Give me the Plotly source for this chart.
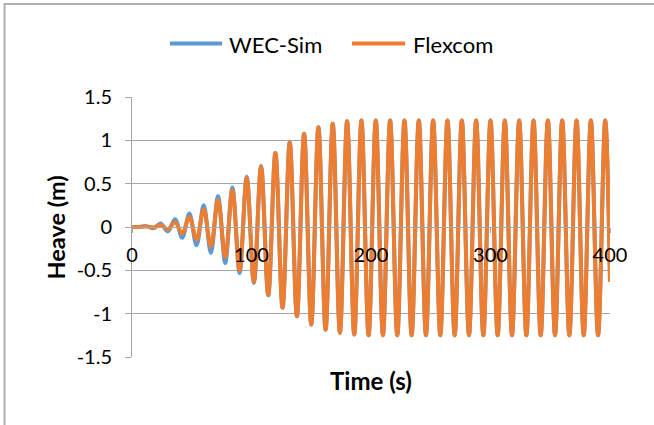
import plotly.graph_objects as go

# ---- data (extrema: peaks/troughs every half period) ----
time_s = [0, 6, 12, 18, 24, 30, 36, 42, 48, 54, 60, 66, 72, 78, 84, 90, 96, 102,
          108, 114, 120, 126, 132, 138, 144, 150, 156, 162, 168, 174, 180, 186,
          192, 198, 204, 210, 216, 222, 228, 234, 240, 246, 252, 258, 264, 270,
          276, 282, 288, 294, 300, 306, 312, 318, 324, 330, 336, 342, 348, 354,
          360, 366, 372, 378, 384, 390, 396, 400]

flexcom = [0.0, 0.0, 0.005, -0.005, 0.02, -0.025, 0.055, -0.075, 0.115, -0.145,
           0.205, -0.225, 0.315, -0.345, 0.425, -0.50, 0.565, -0.635, 0.70, -0.785,
           0.855, -0.93, 0.975, -1.03, 1.075, -1.125, 1.15, -1.185, 1.19, -1.22,
           1.22, -1.24, 1.23, -1.25, 1.23, -1.25, 1.23, -1.25, 1.23, -1.25,
           1.23, -1.25, 1.23, -1.25, 1.23, -1.25, 1.23, -1.25, 1.23, -1.25,
           1.23, -1.25, 1.23, -1.25, 1.23, -1.25, 1.23, -1.25, 1.23, -1.25,
           1.23, -1.25, 1.23, -1.25, 1.23, -1.25, 1.23, -0.63]

wec_sim = [0.0, 0.0, 0.01, -0.015, 0.04, -0.05, 0.09, -0.125, 0.155, -0.21,
           0.25, -0.30, 0.355, -0.415, 0.455, -0.53, 0.58, -0.645, 0.705, -0.79,
           0.855, -0.93, 0.975, -1.03, 1.075, -1.125, 1.15, -1.185, 1.19, -1.22,
           1.22, -1.24, 1.23, -1.25, 1.23, -1.25, 1.23, -1.25, 1.23, -1.25,
           1.23, -1.25, 1.23, -1.25, 1.23, -1.25, 1.23, -1.25, 1.23, -1.25,
           1.23, -1.25, 1.23, -1.25, 1.23, -1.25, 1.23, -1.25, 1.23, -1.25,
           1.23, -1.25, 1.23, -1.25, 1.23, -1.25, 1.23, -0.63]

x_tickvals = [0, 100, 200, 300, 400]
x_ticktext = ["0", "100", "200", "300", "400"]
y_tickvals = [-1.5, -1, -0.5, 0, 0.5, 1, 1.5]
y_ticktext = ["-1.5", "-1", "-0.5", "0", "0.5", "1", "1.5"]

series_names = ["WEC-Sim", "Flexcom"]
series_colors = ["#5B9BD5", "#ED7D31"]

# ---- layout geometry (pixels) ----
W, H = 654, 425
L, R, T, B = 132, 44, 97, 68
PW, PH = W - L - R, H - T - B


def px(x):
    return (x - L) / PW


def py(y):
    return (H - B - y) / PH


FONT = "Lato"
GRID = "#A6A6A6"

fig = go.Figure()
for name, ys, col in zip(series_names, [wec_sim, flexcom], series_colors):
    fig.add_trace(go.Scatter(
        x=time_s, y=ys, mode="lines", name=name,
        line=dict(color=col, width=4, shape="spline", smoothing=1.0),
        showlegend=False, hoverinfo="skip"))

fig.update_layout(
    width=W, height=H,
    margin=dict(l=L, r=R, t=T, b=B, pad=0),
    paper_bgcolor="white", plot_bgcolor="white",
    font=dict(family=FONT, color="#000000", size=20),
    xaxis=dict(range=[0, 400], tickvals=x_tickvals, ticktext=x_ticktext,
               anchor="free", position=0.5, showline=True, linecolor=GRID,
               linewidth=1, ticks="outside", ticklen=5, tickcolor=GRID,
               showgrid=False, zeroline=False, tickfont=dict(size=20),
               ticklabelstandoff=5),
    yaxis=dict(range=[-1.5, 1.5], tickvals=y_tickvals, ticktext=y_ticktext,
               showline=True, linecolor=GRID, linewidth=1, ticks="outside",
               ticklen=6, tickcolor=GRID, showgrid=True, gridcolor=GRID,
               gridwidth=1, zeroline=False, tickfont=dict(size=20),
               ticklabelstandoff=9),
)

# titles
fig.add_annotation(text="<b>Time (s)</b>", x=px(370.5), y=py(380), xref="paper",
                   yref="paper", showarrow=False, font=dict(size=24),
                   xanchor="center", yanchor="middle")
fig.add_annotation(text="<b>Heave (m)</b>", x=px(55), y=py(227.5), xref="paper",
                   yref="paper", showarrow=False, font=dict(size=23.5),
                   textangle=-90, xanchor="center", yanchor="middle")

# legend (custom, top centre)
leg = [(170, 222, 227), (352, 405, 411)]
for (x0, x1, xt), name, col in zip(leg, series_names, series_colors):
    fig.add_shape(type="line", xref="paper", yref="paper",
                  x0=px(x0), x1=px(x1), y0=py(43.5), y1=py(43.5),
                  line=dict(color=col, width=4))
    fig.add_annotation(text=name, x=px(xt), y=py(44), xref="paper", yref="paper",
                       showarrow=False, font=dict(size=22), xanchor="left",
                       yanchor="middle")

# chart border
fig.add_shape(type="rect", xref="paper", yref="paper",
              x0=px(4.5), y0=py(4), x1=px(720), y1=py(500),
              line=dict(color="#AFAFAF", width=2), layer="below")

fig.write_html("out.html",
               config={"displayModeBar": False},
               post_script="document.body.style.margin='0';"
                           "document.body.style.overflow='hidden';")
